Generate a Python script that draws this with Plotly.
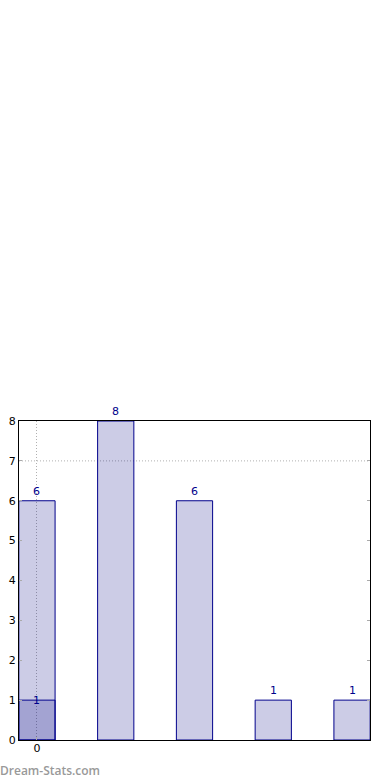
import plotly.graph_objects as go

# Data
categories = [0, 1, 2, 3, 4]
values = [6, 8, 6, 1, 1]
highlight_x = [0]
highlight_values = [1]
x_tick_vals = [0]
x_tick_text = ["0"]
y_tick_vals = [0, 1, 2, 3, 4, 5, 6, 7, 8]
grid_y = [7]

navy = "#00008B"
fill = "rgba(0,0,128,0.2)"
font = "DejaVu Sans"

W, H = 390, 780
ML, MR, MT, MB = 19, 20, 421, 40
plot_w = W - ML - MR
plot_h = H - MT - MB

fig = go.Figure()
fig.add_trace(go.Bar(
    x=categories, y=values, width=0.46,
    marker=dict(color=fill, line=dict(color=navy, width=1)),
    hoverinfo="skip", showlegend=False,
))
fig.add_trace(go.Bar(
    x=highlight_x, y=highlight_values, width=0.46,
    marker=dict(color=fill, line=dict(color=navy, width=1)),
    hoverinfo="skip", showlegend=False,
))

annotations = []
for x, v in zip(categories, values):
    annotations.append(dict(x=x, y=v, xref="x", yref="y", text=str(v),
                            showarrow=False, yanchor="bottom", yshift=1,
                            font=dict(family=font, size=11, color=navy)))
for x, v in zip(highlight_x, highlight_values):
    annotations.append(dict(x=x, y=v, xref="x", yref="y", text=str(v),
                            showarrow=False, yanchor="middle",
                            font=dict(family=font, size=11, color=navy)))
annotations.append(dict(x=-ML / plot_w, y=(H - MB - 770) / plot_h, xref="paper", yref="paper",
                        text="Dream-Stats.com",
                        showarrow=False, xanchor="left", yanchor="middle", xshift=-2,
                        font=dict(family="Open Sans", size=12, color="#999999", weight=600)))

shapes = []
for gy in grid_y:
    shapes.append(dict(type="line", xref="paper", yref="y", x0=0, x1=1, y0=gy, y1=gy,
                       line=dict(color="#b0b0b0", width=1, dash="1px,2px"), layer="below"))

fig.update_layout(
    width=W, height=H,
    margin=dict(l=ML, r=MR, t=MT, b=MB),
    paper_bgcolor="white", plot_bgcolor="white",
    barmode="overlay",
    font=dict(family=font, size=11, color="black"),
    annotations=annotations,
    shapes=shapes,
    xaxis=dict(range=[-0.228, 4.228], tickvals=x_tick_vals, ticktext=x_tick_text,
               showgrid=True, gridcolor="#b0b0b0", griddash="1px,2px", gridwidth=1,
               showline=True, linecolor="black", linewidth=1, mirror=True,
               ticks="inside", ticklen=3, tickcolor="#aaaaaa", zeroline=False,
               ticklabelstandoff=-2,
               automargin=False, fixedrange=True),
    yaxis=dict(range=[0, 8], tickvals=y_tick_vals, showgrid=False,
               showline=True, linecolor="black", linewidth=1, mirror="ticks",
               ticks="inside", ticklen=3, tickcolor="#aaaaaa", zeroline=False,
               automargin=False, fixedrange=True),
)

fig.write_html("out.html", config={"displayModeBar": False})
